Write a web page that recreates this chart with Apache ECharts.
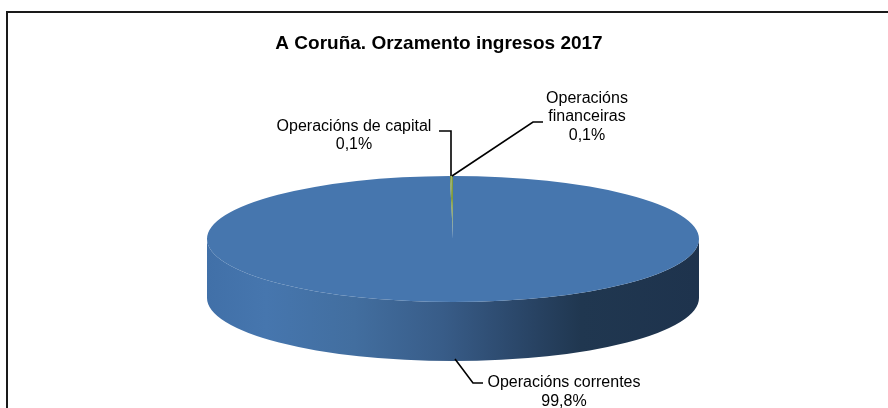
<!DOCTYPE html>
<html>
<head>
<meta charset="utf-8">
<script src="https://cdn.jsdelivr.net/npm/echarts@6/dist/echarts.min.js"></script>
<style>
  html, body { margin: 0; padding: 0; background: #fff; }
  #chart { width: 888px; height: 408px; }
</style>
</head>
<body>
<div id="chart"></div>
<script>
// Chart data
const titleText = 'A Coruña. Orzamento ingresos 2017';
const categories = ['Operacións correntes', 'Operacións de capital', 'Operacións\nfinanceiras'];
const shares = [99.8, 0.1, 0.1];

// Layout of the tilted disc and of the data labels
const disc = { cx: 453, cy: 239, rx: 246, ry: 63, depth: 59 };
const sliceColors = ['#4676ae', '#7f9a3f', '#7f9a3f'];
const labelSpots = [[564, 392], [354, 135.5], [587, 117]];
const leaders = [
    [[455, 359], [473, 383], [483, 383]],
    [[439, 131], [451, 131], [451, 176]],
    [[543, 122], [533, 122], [452, 176]]
];

const total = shares.reduce((sum, v) => sum + v, 0);

// Slices start at 12 o'clock and run clockwise
function sliceAngles(index) {
    const before = shares.slice(0, index).reduce((sum, v) => sum + v, 0);
    const start = -Math.PI / 2 + before / total * Math.PI * 2;
    return [start, start + shares[index] / total * Math.PI * 2];
}

function ellipsePoint(angle, offset) {
    return [disc.cx + disc.rx * Math.cos(angle), disc.cy + offset + disc.ry * Math.sin(angle)];
}

// Front wall of a slice, only where it faces the viewer (0..PI)
function wallPath(start, end) {
    const a = Math.max(start, 0);
    const b = Math.min(end, Math.PI);
    if (b <= a) return null;
    const p1 = ellipsePoint(a, 0);
    const p2 = ellipsePoint(b, 0);
    const p3 = ellipsePoint(b, disc.depth);
    const p4 = ellipsePoint(a, disc.depth);
    return 'M' + p1 + 'A' + disc.rx + ',' + disc.ry + ',0,0,1,' + p2 +
        'L' + p3 + 'A' + disc.rx + ',' + disc.ry + ',0,0,0,' + p4 + 'Z';
}

function renderSlice(params, api) {
    const i = params.dataIndex;
    const angles = sliceAngles(i);
    const children = [];
    const wall = wallPath(angles[0], angles[1]);
    if (wall) {
        children.push({
            type: 'path',
            shape: { pathData: wall, layout: 'cover', x: disc.cx - disc.rx, y: disc.cy, width: disc.rx * 2, height: disc.ry + disc.depth },
            style: {
                fill: new echarts.graphic.LinearGradient(0, 0, 1, 0, [
                    { offset: 0, color: '#4170a8' },
                    { offset: 0.12, color: '#4676ae' },
                    { offset: 0.3, color: '#426e9f' },
                    { offset: 0.48, color: '#385c88' },
                    { offset: 0.64, color: '#2a4668' },
                    { offset: 0.76, color: '#203750' },
                    { offset: 1, color: '#1e334d' }
                ])
            }
        });
    }
    // the thin slices fade out towards the centre of the disc
    const topFill = i === 0 ? sliceColors[i] : new echarts.graphic.LinearGradient(0, 0, 0, 1, [
        { offset: 0, color: sliceColors[i] },
        { offset: 0.5, color: sliceColors[i] },
        { offset: 1, color: sliceColors[0] }
    ]);
    children.push({
        type: 'sector',
        x: disc.cx,
        y: disc.cy,
        scaleY: disc.ry / disc.rx,
        z2: 2,
        shape: { cx: 0, cy: 0, r0: 0, r: disc.rx, startAngle: angles[0], endAngle: angles[1] },
        style: { fill: topFill }
    });
    children.push({
        type: 'polyline',
        z2: 3,
        shape: { points: leaders[i] },
        style: { fill: null, stroke: '#000', lineWidth: 1.6 }
    });
    children.push({
        type: 'text',
        z2: 3,
        x: labelSpots[i][0],
        y: labelSpots[i][1],
        style: {
            text: categories[i] + '\n' + shares[i].toFixed(1).replace('.', ',') + '%',
            fill: '#000',
            font: '16px "Liberation Sans", Arial, sans-serif',
            lineHeight: 18.5,
            align: 'center',
            verticalAlign: 'middle'
        }
    });
    return { type: 'group', children: children };
}

const chart = echarts.init(document.getElementById('chart'), null, { renderer: 'canvas' });

chart.setOption({
    animation: false,
    backgroundColor: '#fff',
    title: {
        text: titleText,
        left: 434,
        top: 29,
        textAlign: 'center',
        textStyle: { fontFamily: '"Liberation Sans", Arial, sans-serif', fontSize: 19, fontWeight: 'bold', color: '#000' }
    },
    graphic: [
        // chart frame, cut off by the picture on the right and at the bottom
        { type: 'polyline', shape: { points: [[7, 408], [7, 12], [888, 12]] }, style: { fill: null, stroke: '#1a1a1a', lineWidth: 2 } }
    ],
    series: [{
        type: 'custom',
        coordinateSystem: 'none',
        silent: true,
        renderItem: renderSlice,
        data: shares
    }]
});
</script>
</body>
</html>
